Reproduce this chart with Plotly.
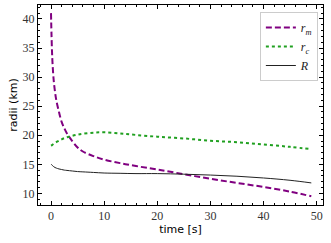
import plotly.graph_objects as go

t = [0, 0.1, 0.25, 0.5, 0.75, 1, 1.5, 2, 2.5, 3, 4, 5, 6, 8, 10, 13, 16, 20, 25, 30, 35, 40, 45, 49]
r_m = [41.0, 37.0, 33.0, 29.5, 27.5, 26.0, 24.0, 22.3, 21.2, 20.3, 19.0, 17.9, 17.2, 16.4, 15.8, 15.2, 14.7, 14.1, 13.3, 12.5, 11.8, 11.1, 10.3, 9.5]
r_c = [18.2, 18.25, 18.35, 18.5, 18.65, 18.8, 19.05, 19.3, 19.5, 19.65, 19.9, 20.1, 20.25, 20.45, 20.5, 20.3, 20.05, 19.75, 19.45, 19.05, 18.8, 18.4, 18.0, 17.6]
R = [15.05, 14.95, 14.8, 14.6, 14.45, 14.35, 14.2, 14.1, 14.0, 13.95, 13.85, 13.75, 13.7, 13.6, 13.5, 13.45, 13.4, 13.4, 13.3, 13.15, 12.95, 12.65, 12.25, 11.8]

x_ticks = [0, 10, 20, 30, 40, 50]
y_ticks = [10, 15, 20, 25, 30, 35, 40]

fig = go.Figure()
fig.add_trace(go.Scatter(x=t, y=r_m, mode="lines", name="<i>r</i><sub><i>m</i></sub>",
                         line=dict(color="#800080", width=2, dash="6px,3px", shape="spline")))
fig.add_trace(go.Scatter(x=t, y=r_c, mode="lines", name="<i>r</i><sub><i>c</i></sub>",
                         line=dict(color="#20a020", width=2, dash="dot", shape="spline")))
fig.add_trace(go.Scatter(x=t, y=R, mode="lines", name="<i>R</i>",
                         line=dict(color="#222222", width=1, shape="spline")))

tickfont = dict(family="Liberation Serif, DejaVu Serif, serif", size=12, color="#333333")
axis_common = dict(showgrid=False, zeroline=False, showline=True, linecolor="black", linewidth=1,
                   mirror="allticks", ticks="inside", ticklen=4, tickcolor="black", tickwidth=1,
                   tickfont=tickfont, ticklabeloverflow="allow", automargin=False)

fig.update_xaxes(range=[-2.45, 51.2], tickvals=x_ticks,
                 minor=dict(dtick=2, ticks="inside", ticklen=2, tickcolor="black"),
                 title=dict(text="time [s]", font=dict(family="DejaVu Sans, sans-serif", size=11, color="black"), standoff=2),
                 **axis_common)
fig.update_yaxes(range=[8.0, 42.4], tickvals=y_ticks,
                 minor=dict(dtick=1, ticks="inside", ticklen=2, tickcolor="black"),
                 title=dict(text="radii (km)", font=dict(family="DejaVu Sans, sans-serif", size=11, color="black"), standoff=2),
                 **axis_common)

fig.update_layout(
    width=331, height=243,
    margin=dict(l=38, r=8, t=5, b=38),
    plot_bgcolor="white", paper_bgcolor="white",
    legend=dict(x=0.982, y=0.965, xanchor="right", yanchor="top",
                bgcolor="rgba(255,255,255,0.8)", bordercolor="#cccccc", borderwidth=1,
                font=dict(family="Liberation Serif, DejaVu Serif, serif", size=12, color="#222222"),
                itemwidth=30, tracegroupgap=0),
    showlegend=True,
)

fig.write_html("out.html", config={"displayModeBar": False},
               post_script="document.body.style.margin='0';document.body.style.overflow='hidden';")
